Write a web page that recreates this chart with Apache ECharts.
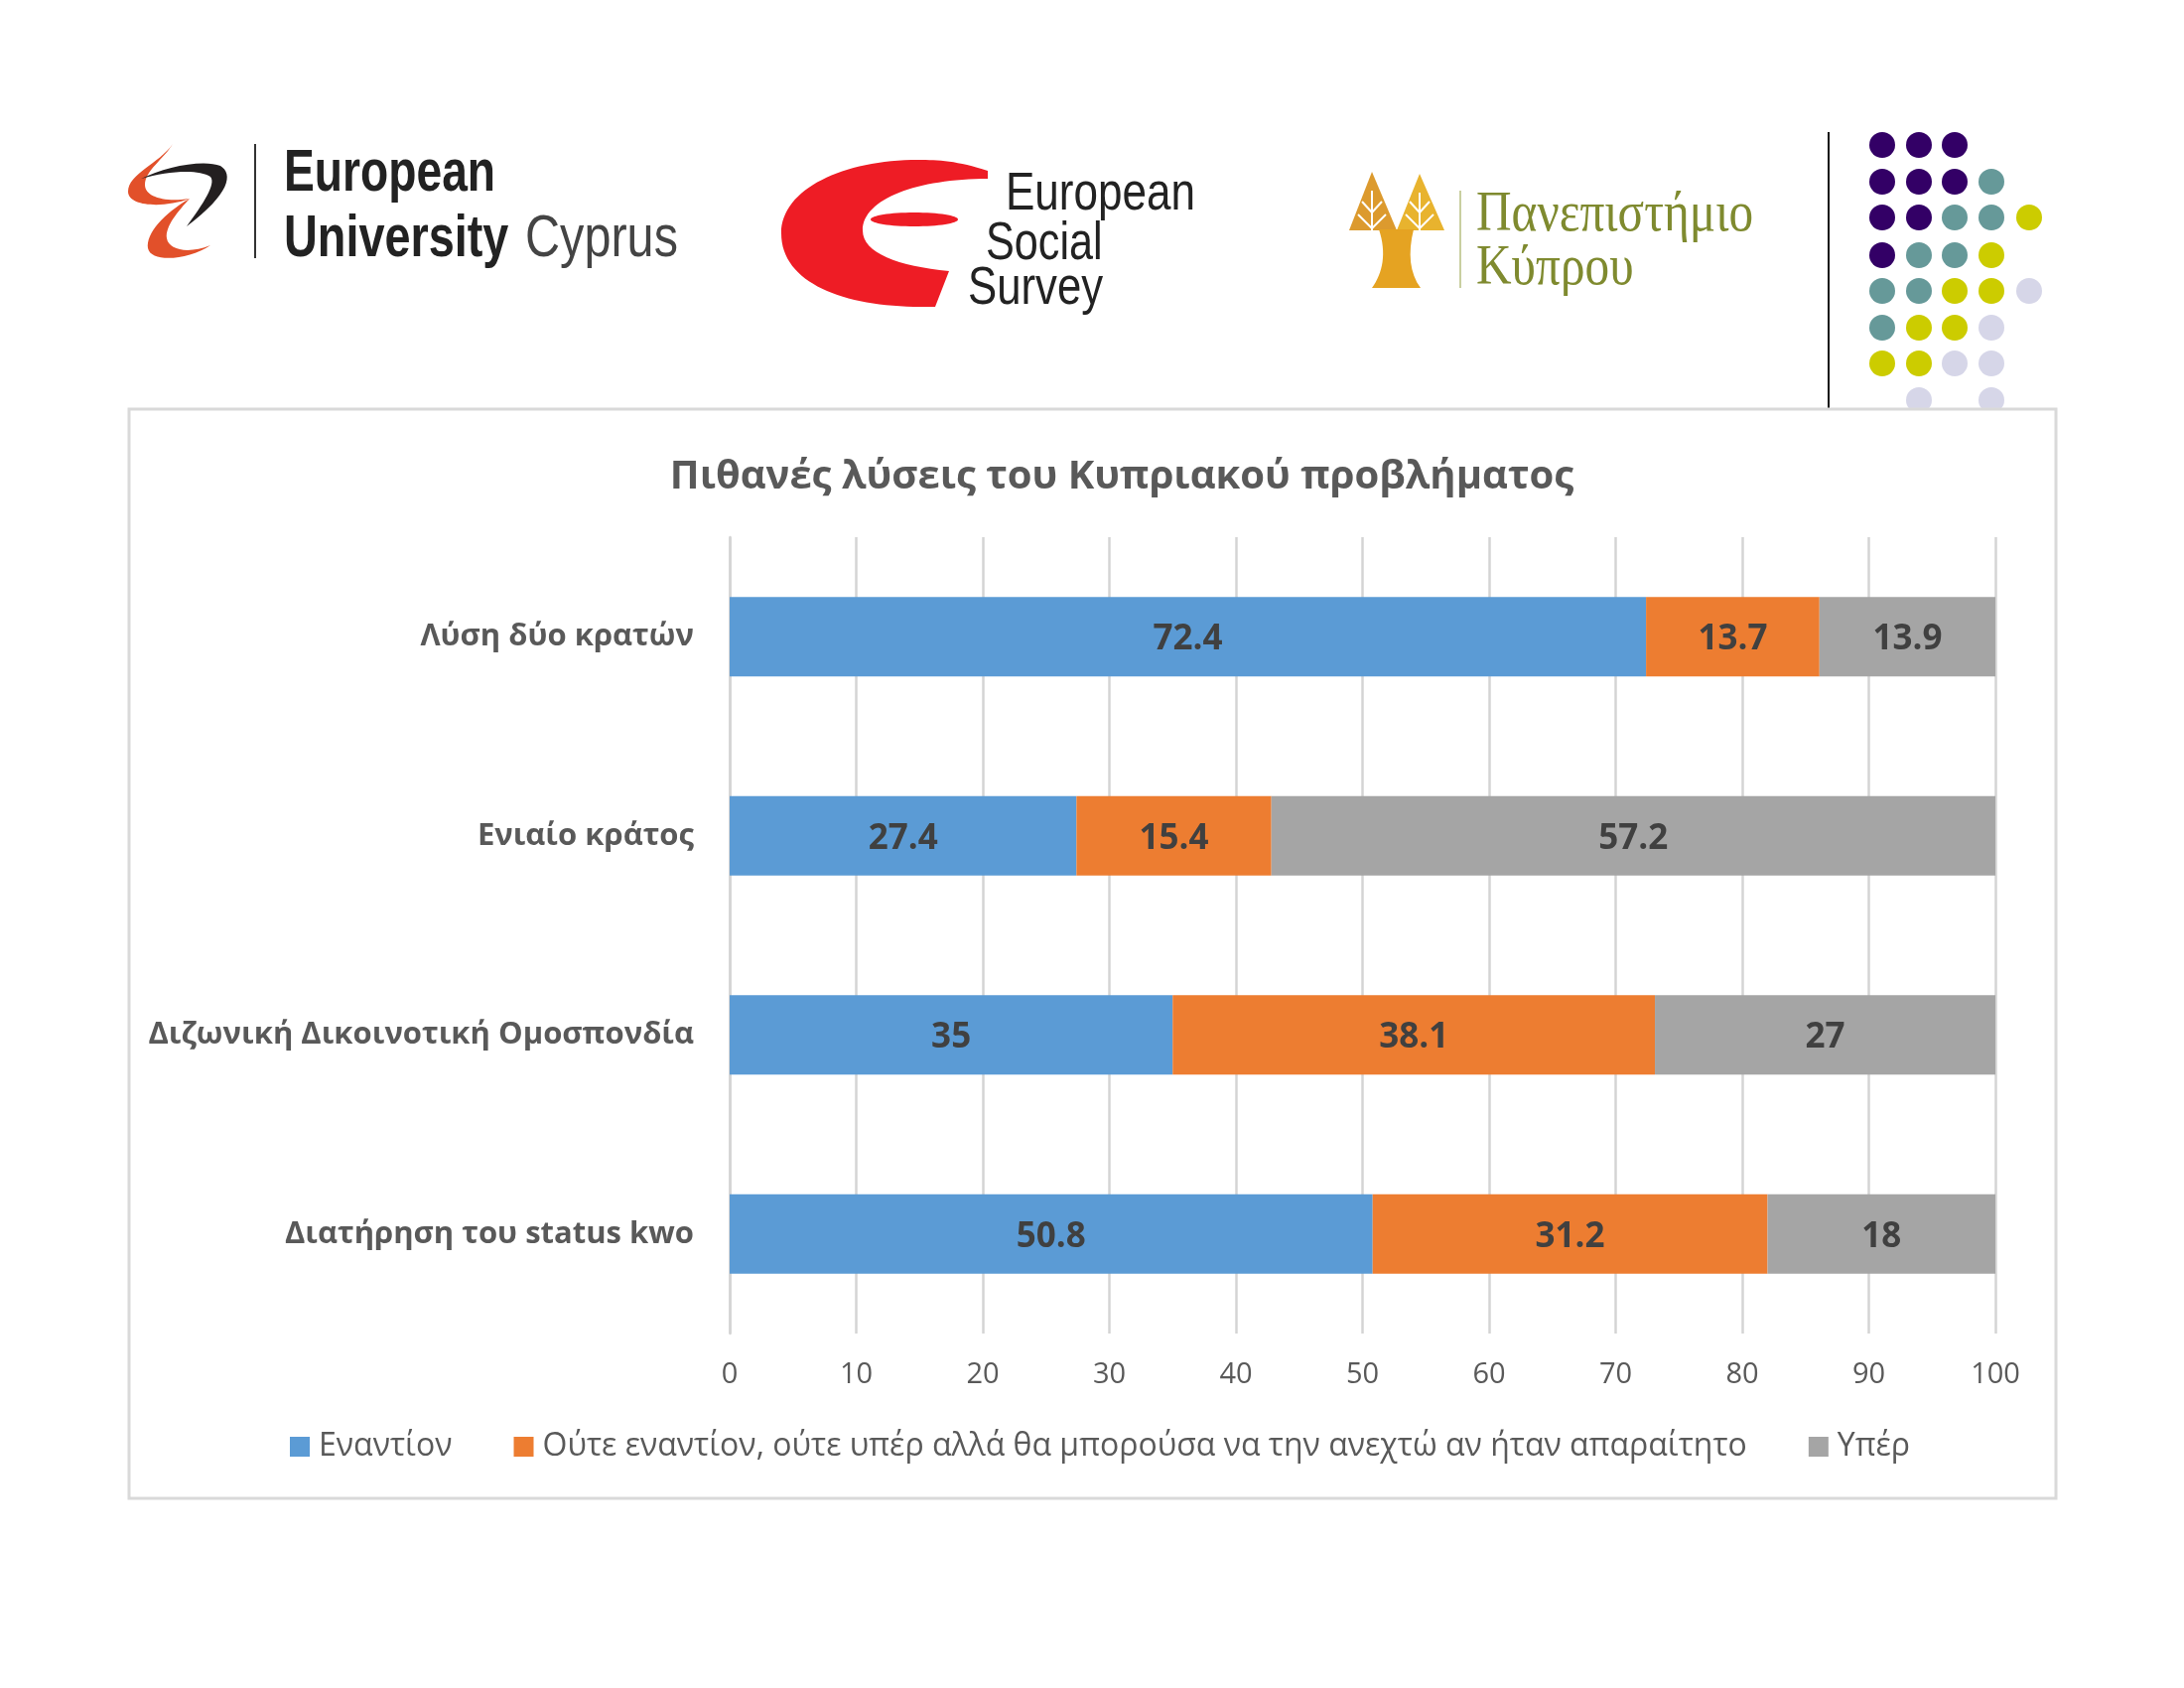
<!DOCTYPE html>
<html><head><meta charset="utf-8">
<style>html,body{margin:0;padding:0;background:#fff}#c{width:2200px;height:1700px}</style>
<script src="https://cdn.jsdelivr.net/npm/echarts@6/dist/echarts.min.js"></script>
</head><body><div id="c"></div>
<script>
const titleText = 'Πιθανές λύσεις του Κυπριακού προβλήματος';
const categories = ['Λύση δύο κρατών','Ενιαίο κράτος','Διζωνική Δικοινοτική Ομοσπονδία','Διατήρηση του status kwo'];
const seriesNames = ['Εναντίον','Ούτε εναντίον, ούτε υπέρ αλλά θα μπορούσα να την ανεχτώ αν ήταν απαραίτητο','Υπέρ'];
const against = [72.4,27.4,35,50.8];
const neutral = [13.7,15.4,38.1,31.2];
const inFavor = [13.9,57.2,27,18];
const seriesColors = ['#5b9bd5','#ed7d31','#a5a5a5'];
const FONT = '"Open Sans"';
const GREY = '#595959';

const purple='#330066', teal='#669999', lime='#cccc00', lilac='#d6d6e8';
const dotCols=[1896,1933,1969,2006,2044];
const dotRows=[146,183,219,257,293,330,366,403];
const dotGrid=[
 [purple,purple,purple,null,null],
 [purple,purple,purple,teal,null],
 [purple,purple,teal,teal,lime],
 [purple,teal,teal,lime,null],
 [teal,teal,lime,lime,lilac],
 [teal,lime,lime,lilac,null],
 [lime,lime,lilac,lilac,null],
 [null,lilac,null,lilac,null]];

let shapeId=0;
function txt(x,base,text,size,family,fill,sx,weight){return {type:'text',x:x,y:base-0.83*size,scaleX:sx||1,z:1,style:{text:text,font:(weight||'normal')+' '+size+'px "'+family+'"',fill:fill}};}
function path(d,fill){const n='logoShape'+(shapeId++);echarts.graphic.registerShape(n,echarts.graphic.extendPath(d,{}));return {type:n,z:1,style:{fill:fill}};}
function poly(pts,fill){return {type:'polygon',z:1,shape:{points:pts},style:{fill:fill}};}
function line(x1,y1,x2,y2,c,w){return {type:'line',z:1,shape:{x1,y1,x2,y2},style:{stroke:c,lineWidth:w}};}

const g=[];
dotGrid.forEach((r,i)=>r.forEach((c,j)=>{if(c)g.push({type:'circle',z:1,shape:{cx:dotCols[j],cy:dotRows[i],r:13},style:{fill:c}});}));
g.push(line(1842,133,1842,411,'#111',2));
// frame
g.push({type:'rect',z:1,shape:{x:130,y:412,width:1941,height:1097},style:{fill:'#fff',stroke:'#d9d9d9',lineWidth:3}});
// EUC logo
g.push(path('M174 145 C160 165 129 175 129 193 C129 208 165 210 191 200 C165 204 146 198 146 186 C146 172 165 160 174 145 Z','#e2502a'));
g.push(path('M142 180 C165 168 205 160 222 167 C235 175 232 195 188 228 C205 205 218 185 212 178 C200 170 170 172 142 180 Z','#231f20'));
g.push(path('M191 200 C165 215 147 235 149 250 C152 265 190 262 212 247 C190 256 170 252 168 240 C166 228 180 212 191 200 Z','#e2502a'));
g.push(line(257,145,257,260,'#333',2));
g.push(txt(286,195,'European',60,'Liberation Sans','#222',0.77,'bold'));
g.push(txt(286,261,'University',60,'Liberation Sans','#222',0.78,'bold'));
g.push(txt(529,261,'Cyprus',60,'Liberation Sans','#444',0.81));
// ESS logo
g.push(path('M995 172 C965 162 945 161 925 161 C850 161 787 190 787 235 C787 285 850 309 928 309 L942 309 L956 273 C905 268 869 255 869 232 C869 200 925 180 995 180 Z','#ee1c25'));
g.push({type:'ellipse',z:1,shape:{cx:921,cy:221,rx:44,ry:7},style:{fill:'#ee1c25'}});
g.push(txt(1013,214,'European',54,'Liberation Sans','#222',0.815));
g.push(txt(993,264,'Social',54,'Liberation Sans','#222',0.80));
g.push(txt(975,309,'Survey',54,'Liberation Sans','#222',0.81));
// UCY logo
g.push(poly([[1382,173],[1359,232],[1407,232]],'#dc9a2e'));
g.push(poly([[1430,175],[1407,232],[1455,232]],'#e8b32e'));
g.push(path('M1389 231 L1424 231 C1418 255 1420 275 1431 290 L1382 290 C1393 275 1397 255 1389 231 Z','#e5a322'));
[[1382,192,1382,232],[1430,194,1430,232],[1372,203,1382,214],[1392,203,1382,214],[1420,203,1430,214],[1440,203,1430,214],[1368,216,1382,230],[1396,216,1382,230],[1416,216,1430,230],[1444,216,1430,230]].forEach(s=>g.push(line(s[0],s[1],s[2],s[3],'#fff',2)));
g.push(line(1471,192,1471,290,'#c9cfa0',2));
g.push(txt(1487,236,'Πανεπιστήμιο',58,'Liberation Serif','#7f8a2f',0.85));
g.push(txt(1487,290,'Κύπρου',58,'Liberation Serif','#7f8a2f',0.85));

const values=[against,neutral,inFavor];
const chart=echarts.init(document.getElementById('c'),null,{renderer:'canvas'});
chart.setOption({
 animation:false,
 backgroundColor:'#fff',
 graphic:{elements:g},
 title:{text:titleText,left:1125,top:456,textAlign:'center',textStyle:{fontFamily:FONT,fontWeight:'bold',fontSize:40,color:GREY},z:5},
 legend:{left:292,top:1441,padding:0,itemWidth:20,itemHeight:20,itemGap:62,icon:'rect',z:5,
   textStyle:{fontFamily:FONT,fontSize:32,color:GREY,padding:[0,0,0,4]},data:seriesNames},
 grid:{left:735,right:190,top:541,bottom:357,containLabel:false,z:5},
 xAxis:{type:'value',min:0,max:100,interval:10,
   axisLine:{show:false},axisTick:{show:false},
   axisLabel:{fontFamily:FONT,fontSize:29,color:GREY,margin:27},
   splitLine:{show:true,lineStyle:{color:'#d4d4d4',width:2.5}},z:5},
 yAxis:{type:'category',inverse:true,data:categories,
   axisLine:{show:true,lineStyle:{color:'#d4d4d4',width:2.5}},axisTick:{show:false},
   axisLabel:{fontFamily:FONT,fontWeight:'bold',fontSize:31,color:GREY,margin:36,padding:[5,0,0,0]},z:5},
 series:seriesNames.map((n,i)=>({name:n,type:'bar',stack:'a',barWidth:80,z:5,data:values[i],
   itemStyle:{color:seriesColors[i]},
   label:{show:true,position:'inside',offset:[0,3],fontFamily:FONT,fontWeight:'bold',fontSize:35,color:'#404040'}}))
});
</script></body></html>
